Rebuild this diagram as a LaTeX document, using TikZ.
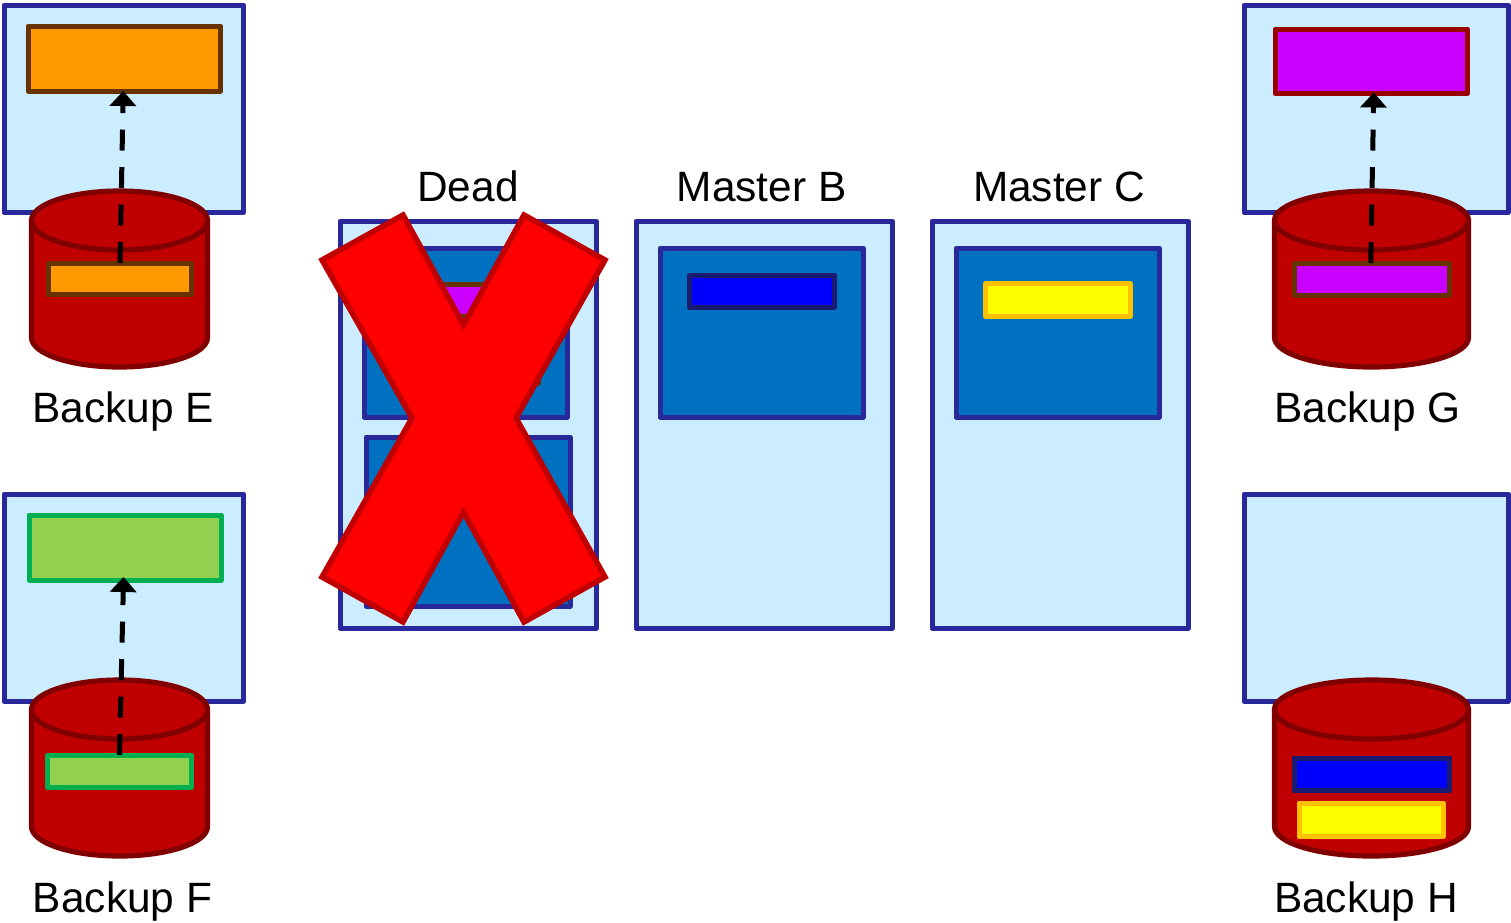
\documentclass[tikz,border=0pt]{standalone}
\usepackage{fontspec}
\setmainfont{Liberation Sans}
\usetikzlibrary{arrows.meta}
\definecolor{frameblue}{HTML}{28289B}
\definecolor{paleblue}{HTML}{CCECFF}
\definecolor{midblue}{HTML}{0070C0}
\definecolor{drumred}{HTML}{C00000}
\definecolor{drumline}{HTML}{800000}
\definecolor{orangefill}{HTML}{FF9900}
\definecolor{brownline}{HTML}{663300}
\definecolor{greenfill}{HTML}{92D050}
\definecolor{greenline}{HTML}{00B050}
\definecolor{purplefill}{HTML}{CC00FF}
\definecolor{purpleline}{HTML}{990000}
\definecolor{navyline}{HTML}{1A1A6E}
\definecolor{goldline}{HTML}{FFC000}
\definecolor{pureyellow}{HTML}{FFFF00}
\definecolor{pureblue}{HTML}{0000FF}
\definecolor{purered}{HTML}{FF0000}
\tikzset{
  box/.style={rectangle,draw,inner sep=0pt,outer sep=0pt,line join=round},
  server/.style={box,draw=frameblue,fill=paleblue,line width=5pt},
  group/.style={box,draw=frameblue,fill=midblue,line width=5pt},
  slotorange/.style={box,draw=brownline,fill=orangefill,line width=5pt},
  slotgreen/.style={box,draw=greenline,fill=greenfill,line width=5pt},
  slotpurple/.style={box,draw=purpleline,fill=purplefill,line width=5pt},
  slotpurplebrown/.style={box,draw=brownline,fill=purplefill,line width=5pt},
  slotblue/.style={box,draw=navyline,fill=pureblue,line width=5pt},
  slotyellow/.style={box,draw=goldline,fill=pureyellow,line width=5pt},
  drum/.style={draw=drumline,fill=drumred,line width=5.2pt,line join=round},
  replica/.style={draw=black,line width=5pt,dash pattern=on 21pt off 16.5pt,-{Triangle[length=15pt,width=26pt]}},
  caption/.style={anchor=base,inner sep=0pt,text=black,font=\fontsize{42.4}{50}\selectfont},
  cross/.style={draw=drumred,fill=purered,line width=5.5pt,line join=miter}
}
\newcommand{\bx}[6]{%
  \pgfmathsetmacro\bxw{#5-#3}\pgfmathsetmacro\bxh{#6-#4}%
  \node[#1,minimum width=\bxw pt,minimum height=\bxh pt] (#2) at ({(#3+#5)/2},{(#4+#6)/2}) {};}
% centre x, radius x, top centre y, bottom centre y
\newcommand{\drumshape}[4]{%
  \path[drum] ({#1-#2},#3) -- ({#1-#2},#4)
    arc[start angle=180,end angle=360,x radius=#2 pt,y radius=29.5pt]
    -- ({#1+#2},#3) -- cycle;
  \path[drum] (#1,#3) circle[x radius=#2 pt,y radius=29.5pt];}
\begin{document}
\begin{tikzpicture}[x=1pt,y=-1pt]
\useasboundingbox (0,0) rectangle (1511,922);
% backup servers
\bx{server}{se}{4}{5}{243.5}{212.5}
\bx{server}{sf}{4}{494}{243.5}{701.5}
\bx{server}{sg}{1244}{5}{1508}{212.5}
\bx{server}{sh}{1244}{494}{1508}{701.5}
\bx{slotorange}{ebig}{28}{26}{220.5}{91}
\bx{slotgreen}{fbig}{29}{515}{221}{580}
\bx{slotpurple}{gbig}{1275}{29}{1467.5}{93.5}
% drums
\drumshape{119.5}{88}{220.5}{337.5}
\drumshape{119.5}{88}{709.5}{826.5}
\drumshape{1371.5}{97}{220.5}{337.5}
\drumshape{1371.5}{97}{709.5}{826.5}
\bx{slotorange}{esmall}{48.5}{263}{191.5}{294.5}
\bx{slotgreen}{fsmall}{47.5}{755}{191.5}{787.5}
\bx{slotpurplebrown}{gsmall}{1294}{263}{1449.5}{295.5}
\bx{slotblue}{hblue}{1294}{758}{1449.5}{790.5}
\bx{slotyellow}{hyellow}{1299}{803}{1443.5}{836.5}
% replication arrows
\draw[replica] (esmall.north) -- ([xshift=-1pt]ebig.south);
\draw[replica,shorten >=-3pt] (fsmall.north) -- ([xshift=-1.5pt]fbig.south);
\draw[replica,shorten >=-1pt] ([xshift=-1pt]gsmall.north) -- ([xshift=2.5pt]gbig.south);
% masters
\bx{server}{dead}{340}{221}{596}{628}
\bx{server}{mb}{636}{221}{892}{628}
\bx{server}{mc}{932}{221}{1188}{628}
\bx{group}{da}{364}{248}{567}{417}
\bx{group}{db}{366}{437}{570}{606}
\bx{group}{ba}{660}{248}{863}{417}
\bx{group}{ca}{956}{248}{1159}{417}
\bx{slotpurplebrown}{dpurple}{392}{284}{538}{316}
\bx{slotorange}{dorange}{392}{351}{538}{383}
\bx{slotblue}{bblue}{689.5}{275}{834}{307.5}
\bx{slotyellow}{cyellow}{985.5}{283.5}{1130}{316.5}
% the cross
\path[cross] (403,215) -- (463.5,325) -- (524,215) -- (605,260) -- (516,418)
  -- (605,577) -- (524,622) -- (463.5,512) -- (403,622) -- (322,577)
  -- (412,418) -- (322,260) -- cycle;
% captions
\node[caption] (tdead) at (468,201) {Dead};
\node[caption] (tb) at (761.5,201) {Master B};
\node[caption] (tc) at (1059,201) {Master C};
\node[caption] (te) at (123,422) {Backup E};
\node[caption] (tf) at (122.5,912) {Backup F};
\node[caption] (tg) at (1367.5,422) {Backup G};
\node[caption] (th) at (1366,912) {Backup H};
\end{tikzpicture}
\end{document}
